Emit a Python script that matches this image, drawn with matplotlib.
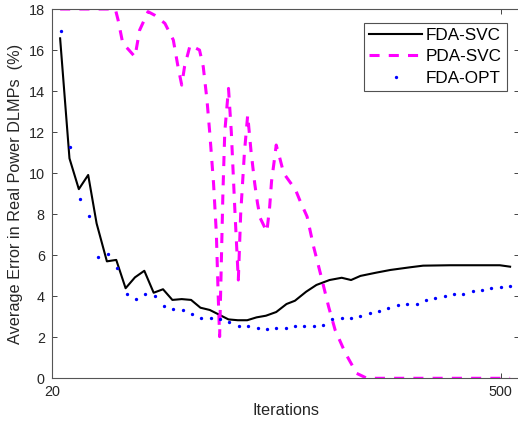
import matplotlib
matplotlib.use("Agg")
import matplotlib.pyplot as plt

plt.rcParams['font.family'] = ['Liberation Sans', 'DejaVu Sans']

# FDA-SVC (solid black)
svc_x = [29, 39, 49, 59, 68, 79, 89, 99, 109, 119, 129, 139, 149, 159, 169, 179, 189, 199,
         209, 219, 229, 239, 249, 260, 271, 280, 292, 303, 317, 330, 340, 350, 367, 382,
         403, 417, 446, 499, 510]
svc_y = [16.57, 10.72, 9.22, 9.91, 7.55, 5.70, 5.77, 4.39, 4.92, 5.24, 4.17, 4.34, 3.82, 3.86,
         3.82, 3.44, 3.33, 3.10, 2.87, 2.83, 2.83, 2.97, 3.05, 3.23, 3.62, 3.78, 4.22, 4.55,
         4.79, 4.90, 4.79, 4.99, 5.15, 5.28, 5.41, 5.49, 5.51, 5.51, 5.44]

# PDA-SVC (dashed magenta)
pda_x = [29, 88, 91, 96, 102, 109, 114, 123, 130, 141, 150, 155, 159, 162, 168, 178, 182,
         186, 189, 193, 196, 198, 199.5, 201, 203, 205, 209, 212, 216, 219.5, 222, 226,
         229.5, 233, 237, 240, 243, 250, 253, 255, 258, 260, 263, 268, 277, 280, 285, 293,
         300, 309, 316, 323, 334, 346, 357, 510]
pda_y = [18, 18, 17.46, 16.32, 16.03, 15.67, 16.97, 17.87, 17.7, 17.3, 16.49, 15.19, 14.29,
         15.19, 16.24, 16.0, 15.19, 13.56, 11.94, 9.5, 7.07, 4.0, 2.03, 5.0, 9.0, 12.0, 14.13,
         12.0, 8.0, 4.79, 8.0, 11.0, 12.83, 11.1, 9.5, 8.53, 7.8, 7.14, 8.36, 9.6, 10.64,
         11.37, 10.88, 9.99, 9.42, 9.26, 8.7, 7.88, 6.41, 4.79, 3.49, 2.35, 1.22, 0.24, 0.0,
         0.0]

# FDA-OPT (blue dots), one every 10 iterations
opt_x = list(range(30, 520, 10))
opt_y = [16.94, 11.29, 8.72, 7.89, 5.93, 6.06, 5.36, 4.09, 3.88, 4.09, 4.00, 3.51, 3.39, 3.33,
         3.13, 2.95, 2.95, 2.90, 2.74, 2.53, 2.53, 2.47, 2.40, 2.43, 2.45, 2.53, 2.55, 2.57,
         2.58, 2.87, 2.95, 2.96, 3.04, 3.20, 3.28, 3.41, 3.57, 3.62, 3.64, 3.80, 3.93, 4.03,
         4.11, 4.12, 4.27, 4.29, 4.40, 4.45, 4.51]

fig = plt.figure(figsize=(5.18, 4.23), dpi=100)
ax = fig.add_axes([0.0998, 0.1057, 0.903, 0.873])

ax.plot(svc_x, svc_y, color='black', lw=1.5, label='FDA-SVC')
ax.plot(pda_x, pda_y, color='#ff00ff', lw=2.2, dashes=(3.3, 3.0), label='PDA-SVC')
ax.plot(opt_x, opt_y, linestyle='none', marker='o', ms=2.4, mec='none', color='#0000ff',
        label='FDA-OPT')

ax.set_xlim(20, 520)
ax.set_ylim(0, 18)
ax.set_xticks([20, 500])
ax.set_yticks(range(0, 19, 2))
ax.tick_params(direction='in', length=3.5, width=0.6, labelsize=10.4, colors='#262626',
               top=True, right=True, pad=5)
for s in ax.spines.values():
    s.set_color('#555555')
    s.set_linewidth(0.8)

ax.set_xlabel('Iterations', fontsize=11.7, color='#262626', labelpad=3)
ax.set_ylabel('Average Error in Real Power DLMPs  (%)', fontsize=11.7, color='#262626',
              labelpad=4)

leg = ax.legend(loc='upper right', bbox_to_anchor=(0.973, 0.963), fontsize=12.3,
                frameon=True, fancybox=False, edgecolor='#262626', handlelength=3.1,
                handletextpad=0.2, borderpad=0.3, labelspacing=0.38, borderaxespad=0)
leg.get_frame().set_linewidth(0.8)

fig.savefig('out.png', dpi=100)
